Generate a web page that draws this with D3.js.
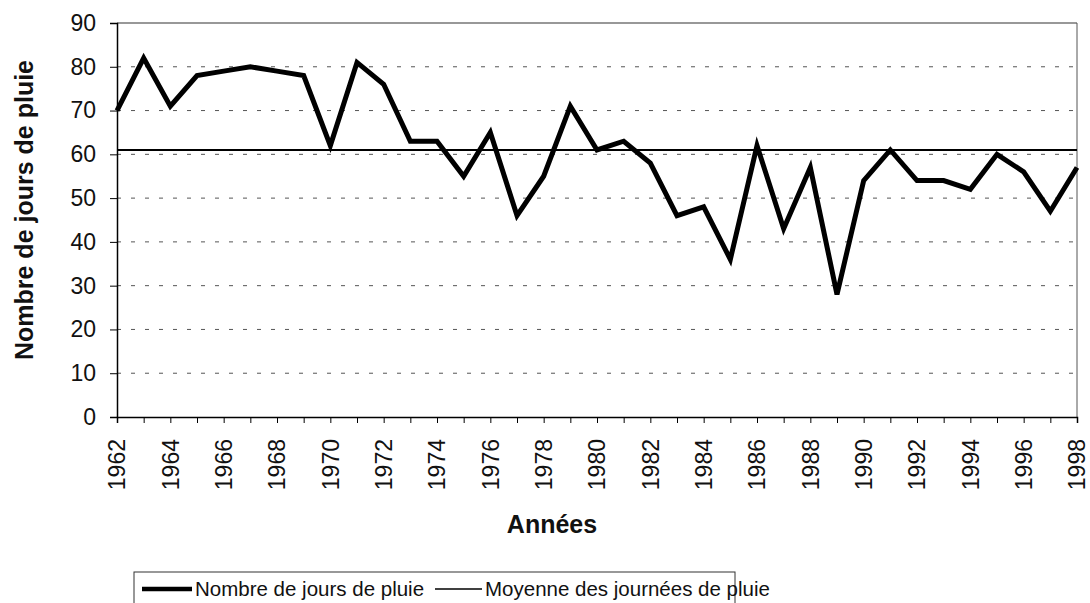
<!DOCTYPE html>
<html>
<head>
<meta charset="utf-8">
<script src="https://cdn.jsdelivr.net/npm/d3@7"></script>
<style>
  body { margin: 0; background: #fff; }
  svg { display: block; font-family: "Liberation Sans", Arial, sans-serif; }
</style>
</head>
<body>
<svg id="chart" width="1090" height="603"></svg>
<script>
// années et nombre de jours de pluie
const annees = [1962, 1963, 1964, 1965, 1966, 1967, 1968, 1969, 1970, 1971,
                1972, 1973, 1974, 1975, 1976, 1977, 1978, 1979, 1980, 1981,
                1982, 1983, 1984, 1985, 1986, 1987, 1988, 1989, 1990, 1991,
                1992, 1993, 1994, 1995, 1996, 1997, 1998];
const joursPluie = [70, 82, 71, 78, 79, 80, 79, 78, 62, 81,
                    76, 63, 63, 55, 65, 46, 55, 71, 61, 63,
                    58, 46, 48, 36, 62, 43, 57, 28, 54, 61,
                    54, 54, 52, 60, 56, 47, 57];
const moyenne = 61;
const yTicks = [0, 10, 20, 30, 40, 50, 60, 70, 80, 90];
const xLabels = [1962, 1964, 1966, 1968, 1970, 1972, 1974, 1976, 1978, 1980,
                 1982, 1984, 1986, 1988, 1990, 1992, 1994, 1996, 1998];
const legendItems = ["Nombre de jours de pluie", "Moyenne des journées de pluie"];

const plotLeft = 117, plotRight = 1077, plotTop = 23, plotBottom = 417;
const svg = d3.select("#chart");

const x = d3.scaleLinear().domain([1962, 1998]).range([plotLeft, plotRight]);
const y = d3.scaleLinear().domain([0, 90]).range([plotBottom, plotTop]);

// grille horizontale pointillée
svg.append("g")
  .selectAll("line")
  .data(yTicks.filter(d => d > 0 && d < 90))
  .join("line")
  .attr("x1", plotLeft).attr("x2", plotRight)
  .attr("y1", d => y(d)).attr("y2", d => y(d))
  .attr("stroke", "#555")
  .attr("stroke-width", 1)
  .attr("stroke-dasharray", "4,10");

// cadre haut et droit
svg.append("line")
  .attr("x1", plotLeft).attr("x2", plotRight).attr("y1", plotTop).attr("y2", plotTop)
  .attr("stroke", "#333").attr("stroke-width", 1.2);
svg.append("line")
  .attr("x1", plotRight).attr("x2", plotRight).attr("y1", plotTop).attr("y2", plotBottom)
  .attr("stroke", "#555").attr("stroke-width", 1);

// axe Y
const yAxis = svg.append("g")
  .attr("transform", `translate(${plotLeft},0)`)
  .call(d3.axisLeft(y).tickValues(yTicks).tickSize(7).tickPadding(14));
yAxis.select(".domain").attr("stroke", "#000").attr("stroke-width", 1.5);
yAxis.selectAll(".tick line").attr("stroke", "#000");
yAxis.selectAll("text")
  .attr("font-size", 23)
  .attr("fill", "#111")
  .attr("font-family", "Liberation Sans, Arial, sans-serif");

// axe X
const xAxis = svg.append("g")
  .attr("transform", `translate(0,${plotBottom})`)
  .call(d3.axisBottom(x).tickValues(annees).tickSize(6).tickFormat(""));
xAxis.select(".domain").attr("stroke", "#000").attr("stroke-width", 1.5);
xAxis.selectAll(".tick line").attr("stroke", "#000");

svg.append("g")
  .selectAll("text")
  .data(xLabels)
  .join("text")
  .attr("transform", d => `translate(${x(d)},${plotBottom + 22}) rotate(-90)`)
  .attr("text-anchor", "end")
  .attr("dy", "0.36em")
  .attr("font-size", 23)
  .attr("fill", "#111")
  .text(d => d);

// titres des axes
svg.append("text")
  .attr("transform", `translate(33,${(plotTop + plotBottom) / 2 - 10}) rotate(-90)`)
  .attr("text-anchor", "middle")
  .attr("font-size", 25)
  .attr("font-weight", "bold")
  .attr("fill", "#111")
  .text("Nombre de jours de pluie");

svg.append("text")
  .attr("x", 552).attr("y", 533)
  .attr("text-anchor", "middle")
  .attr("font-size", 25)
  .attr("font-weight", "bold")
  .attr("fill", "#111")
  .text("Années");

// moyenne
svg.append("line")
  .attr("x1", x(1962)).attr("x2", x(1998))
  .attr("y1", y(moyenne)).attr("y2", y(moyenne))
  .attr("stroke", "#000").attr("stroke-width", 2);

// série
const line = d3.line()
  .x((d, i) => x(annees[i]))
  .y(d => y(d));
svg.append("path")
  .datum(joursPluie)
  .attr("d", line)
  .attr("fill", "none")
  .attr("stroke", "#000")
  .attr("stroke-width", 5)
  .attr("stroke-linejoin", "miter");

// légende
const legendY = 589;
const lg = svg.append("g");
lg.append("rect")
  .attr("x", 134).attr("y", 572)
  .attr("width", 601).attr("height", 50)
  .attr("fill", "none").attr("stroke", "#333").attr("stroke-width", 1);
lg.append("line")
  .attr("x1", 142).attr("x2", 192).attr("y1", legendY).attr("y2", legendY)
  .attr("stroke", "#000").attr("stroke-width", 4.5);
lg.append("text")
  .attr("x", 195).attr("y", legendY).attr("dy", "0.36em")
  .attr("font-size", 20.5).attr("fill", "#111")
  .text(legendItems[0]);
lg.append("line")
  .attr("x1", 435).attr("x2", 482).attr("y1", legendY).attr("y2", legendY)
  .attr("stroke", "#000").attr("stroke-width", 1.5);
lg.append("text")
  .attr("x", 485).attr("y", legendY).attr("dy", "0.36em")
  .attr("font-size", 20.5).attr("fill", "#111")
  .text(legendItems[1]);
</script>
</body>
</html>
